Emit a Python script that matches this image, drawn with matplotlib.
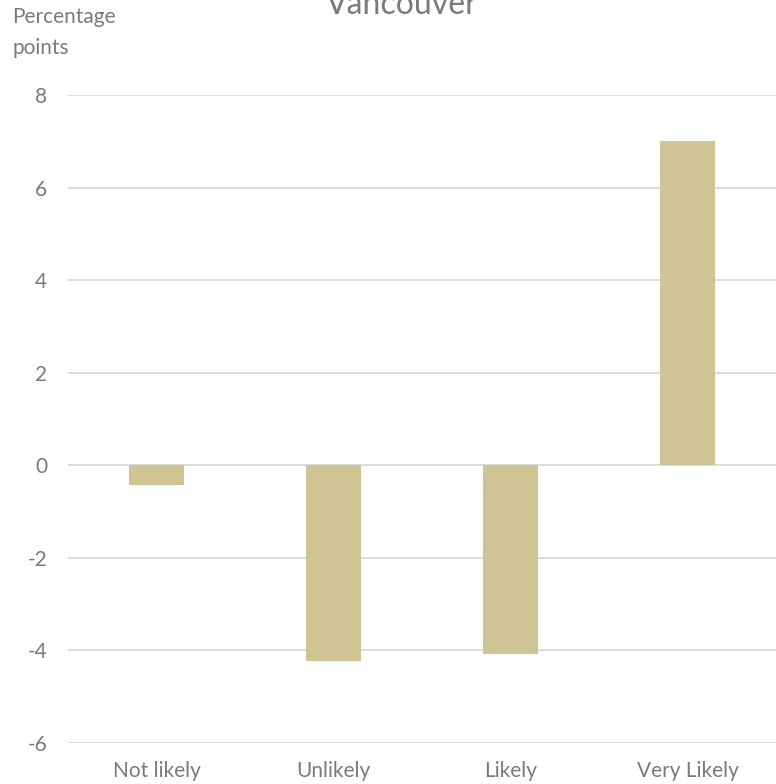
import matplotlib.pyplot as plt
import numpy as np

# data
categories = ["Not likely", "Unlikely", "Likely", "Very Likely"]
values = [-0.43, -4.22, -4.07, 7.0]
y_ticks = [-6, -4, -2, 0, 2, 4, 6, 8]

plt.rcParams['font.family'] = ['Lato', 'DejaVu Sans']
grey = '#7A7A7A'

fig = plt.figure(figsize=(7.76, 7.84), dpi=100)
ax = fig.add_axes([68 / 776, 1 - 743 / 784, 1 - 68 / 776, (743 - 95) / 784])

x = np.arange(len(categories))
ax.bar(x, values, width=0.316, color='#CFC594', zorder=3)

ax.set_xlim(-0.5, len(categories) - 0.5)
ax.set_ylim(-6, 8)
ax.set_yticks(y_ticks)
ax.set_yticklabels([str(t) for t in y_ticks])
ax.set_xticks(x)
ax.set_xticklabels(categories)

ax.grid(axis='y', color='#D9D9D9', linewidth=1.3, zorder=0)
for s in ax.spines.values():
    s.set_visible(False)
ax.tick_params(axis='both', length=0, labelsize=15, colors=grey)
ax.tick_params(axis='y', pad=15)
ax.tick_params(axis='x', pad=13)

# title is partly cut off at the top of the picture
fig.text(0.518, 1 - 14 / 784, "Vancouver", ha='center', va='baseline',
         fontsize=23, color=grey)
fig.text(12 / 776, 1 - 54 / 784, "Percentage\npoints", ha='left', va='baseline',
         fontsize=15, color=grey, linespacing=1.7)

fig.savefig("out.png", dpi=100)
